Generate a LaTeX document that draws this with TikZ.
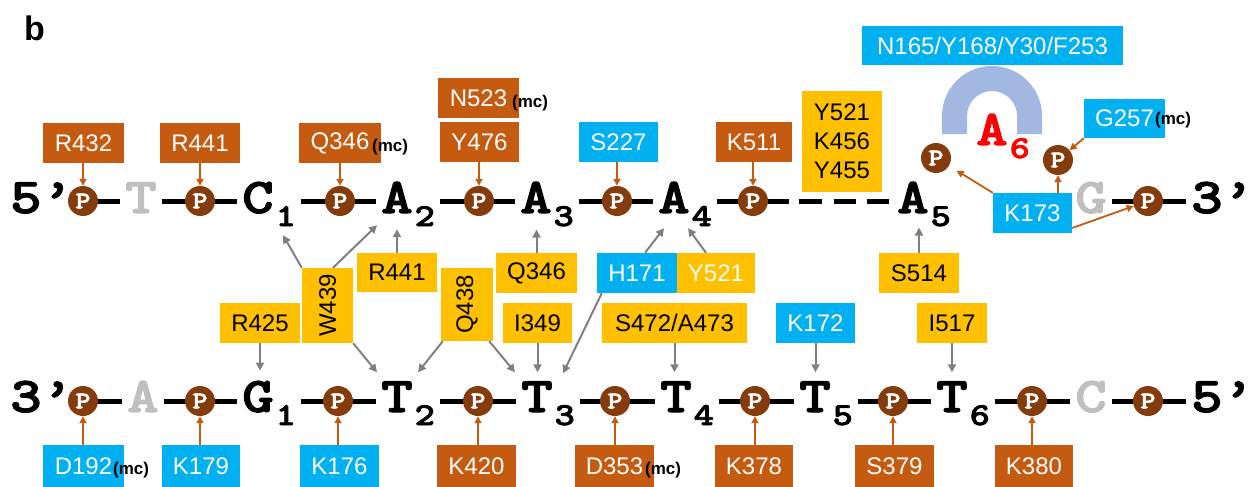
\documentclass[tikz,border=0pt]{standalone}
\usepackage{fontspec}
\usepackage{graphicx}
\setmainfont{Liberation Sans}
\newfontfamily\courf{lmmonolt10-bold.otf}[FakeBold=2]
\usetikzlibrary{arrows.meta,backgrounds}
\definecolor{cor}{HTML}{C55A11}
\definecolor{cbl}{HTML}{00B0F0}
\definecolor{cye}{HTML}{FFC000}
\definecolor{cpb}{HTML}{843C0C}
\definecolor{cgl}{HTML}{BFBFBF}
\definecolor{carc}{HTML}{A2B8E0}
\definecolor{cga}{HTML}{808080}
\newcommand\cw[1]{\scalebox{1.2}[1]{#1}}
\newcommand\basefnt{\courf\fontsize{50}{50}\selectfont}
\newcommand\subfnt{\courf\fontsize{32}{32}\selectfont}
\newcommand\subsc[1]{\kern2pt\raisebox{-13pt}{\subfnt\cw{#1}}}
\tikzset{
 bx/.style={inner sep=0pt, minimum height=40pt, font=\fontsize{24}{29}\selectfont, align=center},
 obx/.style={bx, fill=cor, text=white},
 bbx/.style={bx, fill=cbl, text=white},
 ybx/.style={bx, fill=cye, text=black},
 pc/.style={circle, fill=cpb, minimum size=30pt, inner sep=0pt, text=white, font=\courf\fontsize{24}{24}\selectfont},
 base/.style={inner sep=0pt, anchor=base west, font=\basefnt},
 mc/.style={inner sep=0pt, anchor=west, font=\bfseries\fontsize{17}{17}\selectfont},
 bond/.style={line width=5pt, shorten <=5pt, shorten >=5pt},
 oar/.style={draw=cor, line width=1.8pt, -{Triangle[length=7pt,width=7pt]}},
 gar/.style={draw=cga, line width=2pt, -{Triangle[length=8pt,width=8pt]}},
}
\begin{document}
\begin{tikzpicture}[x=1pt,y=-1pt]
\useasboundingbox (0,0) rectangle (1253,487);
\node[font=\bfseries\fontsize{34}{34}\selectfont, anchor=base west, inner sep=0pt] (lb) at (24,41) {b};

% arch
\fill[carc] (942,134) -- (942,116) arc[start angle=180, end angle=360, radius=50] -- (1042,134) -- (1017,134) -- (1017,116) arc[start angle=360, end angle=180, radius=25] -- (967,134) -- cycle;

% top strand
\node[base] (t5) at (10,213) {\cw{5’}};
\node[base, text=cgl] (tT) at (125,213) {\cw{T}};
\node[base] (tC) at (242,213) {\cw{C}\subsc{1}};
\node[base] (tA2) at (381,213) {\cw{A}\subsc{2}};
\node[base] (tA3) at (520,213) {\cw{A}\subsc{3}};
\node[base] (tA4) at (658,213) {\cw{A}\subsc{4}};
\node[base] (tA5) at (897,213) {\cw{A}\subsc{5}};
\node[base, text=red] (tA6) at (976,145) {\cw{A}\subsc{6}};
\node[base, text=cgl] (tG) at (1075,213) {\cw{G}};
\node[base] (t3) at (1191,213) {\cw{3’}};
\node[pc] (tp1) at (83,201) {\cw{P}};
\node[pc] (tp2) at (200,201) {\cw{P}};
\node[pc] (tp3) at (340,201) {\cw{P}};
\node[pc] (tp4) at (479,201) {\cw{P}};
\node[pc] (tp5) at (617,201) {\cw{P}};
\node[pc] (tp6) at (753,201) {\cw{P}};
\node[pc] (tpa) at (936,158) {\cw{P}};
\node[pc] (tpb) at (1058,160) {\cw{P}};
\node[pc] (tp7) at (1148,201) {\cw{P}};

% bottom strand
\node[base] (b3) at (10,412) {\cw{3’}};
\node[base, text=cgl] (bA) at (127,412) {\cw{A}};
\node[base] (bG) at (242,412) {\cw{G}\subsc{1}};
\node[base] (bT2) at (381,412) {\cw{T}\subsc{2}};
\node[base] (bT3) at (521,412) {\cw{T}\subsc{3}};
\node[base] (bT4) at (660,412) {\cw{T}\subsc{4}};
\node[base] (bT5) at (799,412) {\cw{T}\subsc{5}};
\node[base] (bT6) at (936,412) {\cw{T}\subsc{6}};
\node[base, text=cgl] (bC) at (1075,412) {\cw{C}};
\node[base] (b5) at (1191,412) {\cw{5’}};
\node[pc] (bp1) at (83,401) {\cw{P}};
\node[pc] (bp2) at (200,401) {\cw{P}};
\node[pc] (bp3) at (338,401) {\cw{P}};
\node[pc] (bp4) at (478,401) {\cw{P}};
\node[pc] (bp5) at (615,401) {\cw{P}};
\node[pc] (bp6) at (755,401) {\cw{P}};
\node[pc] (bp7) at (893,401) {\cw{P}};
\node[pc] (bp8) at (1032,401) {\cw{P}};
\node[pc] (bp9) at (1148,401) {\cw{P}};

\begin{scope}[on background layer]
\draw[bond, shorten <=0pt] (tp1.center) -- (tT.west |- tp1);
\draw[bond] (tT.east |- tp2) -- (tC.west |- tp2);
\draw[bond] (tC.east |- tp3) -- (tA2.west |- tp3);
\draw[bond] (tA2.east |- tp4) -- (tA3.west |- tp4);
\draw[bond] (tA3.east |- tp5) -- (tA4.west |- tp5);
\draw[bond, dash pattern=on 72pt off 10pt on 23pt off 12pt on 22pt off 11pt on 22pt off 40pt] (tA4.east |- tp6) -- (tA5.west |- tp6);
\draw[bond] (tG.east |- tp7) -- (t3.west |- tp7);
\draw[bond, shorten <=0pt] (bp1.center) -- (bA.west |- bp1);
\draw[bond] (bA.east |- bp2) -- (bG.west |- bp2);
\draw[bond] (bG.east |- bp3) -- (bT2.west |- bp3);
\draw[bond] (bT2.east |- bp4) -- (bT3.west |- bp4);
\draw[bond] (bT3.east |- bp5) -- (bT4.west |- bp5);
\draw[bond] (bT4.east |- bp6) -- (bT5.west |- bp6);
\draw[bond] (bT5.east |- bp7) -- (bT6.west |- bp7);
\draw[bond] (bT6.east |- bp8) -- (bC.west |- bp8);
\draw[bond] (bC.east |- bp9) -- (b5.west |- bp9);
\end{scope}

% top boxes
\node[obx, minimum width=81pt] (R432) at (83.5,143) {R432};
\node[obx, minimum width=80pt] (R441t) at (200,143) {R441};
\node[obx, minimum width=82pt] (Q346t) at (340,143) {Q346};
\node[obx, minimum width=81pt] (N523) at (478.5,98) {N523};
\node[obx, minimum width=79pt] (Y476) at (479.5,142) {Y476};
\node[bbx, minimum width=79pt] (S227) at (618.5,142) {S227};
\node[obx, minimum width=76pt] (K511) at (754,142) {K511};
\node[ybx, minimum width=80pt, minimum height=101pt] (YKY) at (842,141.5) {Y521\\K456\\Y455};
\node[bbx, minimum width=261pt, minimum height=39pt] (N165) at (992.5,45.5) {N165/Y168/Y30/F253};
\node[bbx, minimum width=81pt, minimum height=39pt] (G257) at (1124.5,118.5) {G257};
\node[bbx, minimum width=79pt] (K173) at (1032.5,213) {K173};
\node[mc] (mc1) at (372,147) {(mc)};
\node[mc] (mc2) at (512,103) {(mc)};
\node[mc] (mc3) at (1155,120) {(mc)};

% middle boxes
\node[ybx, minimum width=80pt] (R425) at (260,323) {R425};
\node[ybx, minimum width=51pt, minimum height=75pt] (W439) at (327.5,305.5) {\rotatebox{90}{W439}};
\node[ybx, minimum width=80pt, minimum height=39pt] (R441m) at (397,272.5) {R441};
\node[ybx, minimum width=52pt, minimum height=73pt] (Q438) at (467,304.5) {\rotatebox{90}{Q438}};
\node[ybx, minimum width=81pt] (Q346m) at (536.5,273) {Q346};
\node[ybx, minimum width=69pt] (I349) at (537.5,323) {I349};
\node[bbx, minimum width=80pt] (H171) at (637,273) {H171};
\node[ybx, minimum width=78pt, text=white] (Y521m) at (716,273) {Y521};
\node[ybx, minimum width=145pt] (S472) at (674.5,323) {S472/A473};
\node[bbx, minimum width=79pt] (K172) at (815.5,323) {K172};
\node[ybx, minimum width=80pt] (S514) at (919,273) {S514};
\node[ybx, minimum width=70pt] (I517) at (952,323) {I517};

% bottom boxes
\node[bbx, minimum width=81pt, minimum height=42pt] (D192) at (83.5,466) {D192};
\node[bbx, minimum width=78pt, minimum height=42pt] (K179) at (201,466) {K179};
\node[bbx, minimum width=79pt, minimum height=42pt] (K176) at (339.5,466) {K176};
\node[obx, minimum width=79pt, minimum height=42pt] (K420) at (476.5,466) {K420};
\node[obx, minimum width=79pt, minimum height=42pt] (D353) at (614.5,466) {D353};
\node[obx, minimum width=78pt, minimum height=42pt] (K378) at (754,466) {K378};
\node[obx, minimum width=79pt, minimum height=42pt] (S379) at (894.5,466) {S379};
\node[obx, minimum width=78pt, minimum height=42pt] (K380) at (1034,466) {K380};
\node[mc] (mc4) at (113,470) {(mc)};
\node[mc] (mc5) at (645,470) {(mc)};

% orange arrows
\draw[oar] (tp1 |- R432.south) -- (tp1.north);
\draw[oar] (tp2 |- R441t.south) -- (tp2.north);
\draw[oar] (tp3 |- Q346t.south) -- (tp3.north);
\draw[oar] (tp4 |- Y476.south) -- (tp4.north);
\draw[oar] (tp5 |- S227.south) -- (tp5.north);
\draw[oar] (tp6 |- K511.south) -- (tp6.north);
\draw[oar, shorten >=9pt] (K173.north west) -- (tpa);
\draw[oar] (tpb |- K173.north) -- (tpb.south);
\draw[oar] ([yshift=-15pt]K173.east) -- (tp7);
\draw[oar] (G257.south west) -- (tpb);
\draw[oar] (bp1 |- D192.north) -- (bp1.south);
\draw[oar] (bp2 |- K179.north) -- (bp2.south);
\draw[oar] (bp3 |- K176.north) -- (bp3.south);
\draw[oar] (bp4 |- K420.north) -- (bp4.south);
\draw[oar] (bp5 |- D353.north) -- (bp5.south);
\draw[oar] (bp6 |- K378.north) -- (bp6.south);
\draw[oar] (bp7 |- S379.north) -- (bp7.south);
\draw[oar] (bp8 |- K380.north) -- (bp8.south);

% gray arrows
\draw[gar, shorten >=10pt] (R425.south) -- (R425.south |- bG.north);
\draw[gar] (W439.north west) -- ([shift={(14,9)}]tC.south);
\draw[gar] ([xshift=5.5pt]W439.north) -- ([shift={(-4,-1)}]tA2.south west);
\draw[gar] (W439.south east) -- ([shift={(-4,-9)}]bT2.north west);
\draw[gar, shorten >=3pt] (R441m.north) -- (R441m.north |- tA2.south);
\draw[gar] ([xshift=2pt]Q438.south west) -- ([shift={(10,-9)}]bT2.north);
\draw[gar] ([xshift=-4pt]Q438.south east) -- ([shift={(-6,-9)}]bT3.north west);
\draw[gar, shorten >=3pt] (Q346m.north) -- (Q346m.north |- tA3.south);
\draw[gar, shorten >=9pt] (I349.south) -- (I349.south |- bT3.north);
\draw[gar] ([xshift=8pt]H171.north) -- ([shift={(-21,2)}]tA4.south);
\draw[gar] ([xshift=-10pt]Y521m.north) -- ([shift={(3,2)}]tA4.south);
\draw[gar] ([xshift=5pt]H171.south west) -- ([shift={(15,-8)}]bT3.north);
\draw[gar, shorten >=9pt] (S472.south) -- (S472.south |- bT4.north);
\draw[gar, shorten >=9pt] (K172.south) -- (K172.south |- bT5.north);
\draw[gar, shorten >=1pt] (S514.north) -- (S514.north |- tA5.south);
\draw[gar, shorten >=9pt] (I517.south) -- (I517.south |- bT6.north);
\end{tikzpicture}
\end{document}
